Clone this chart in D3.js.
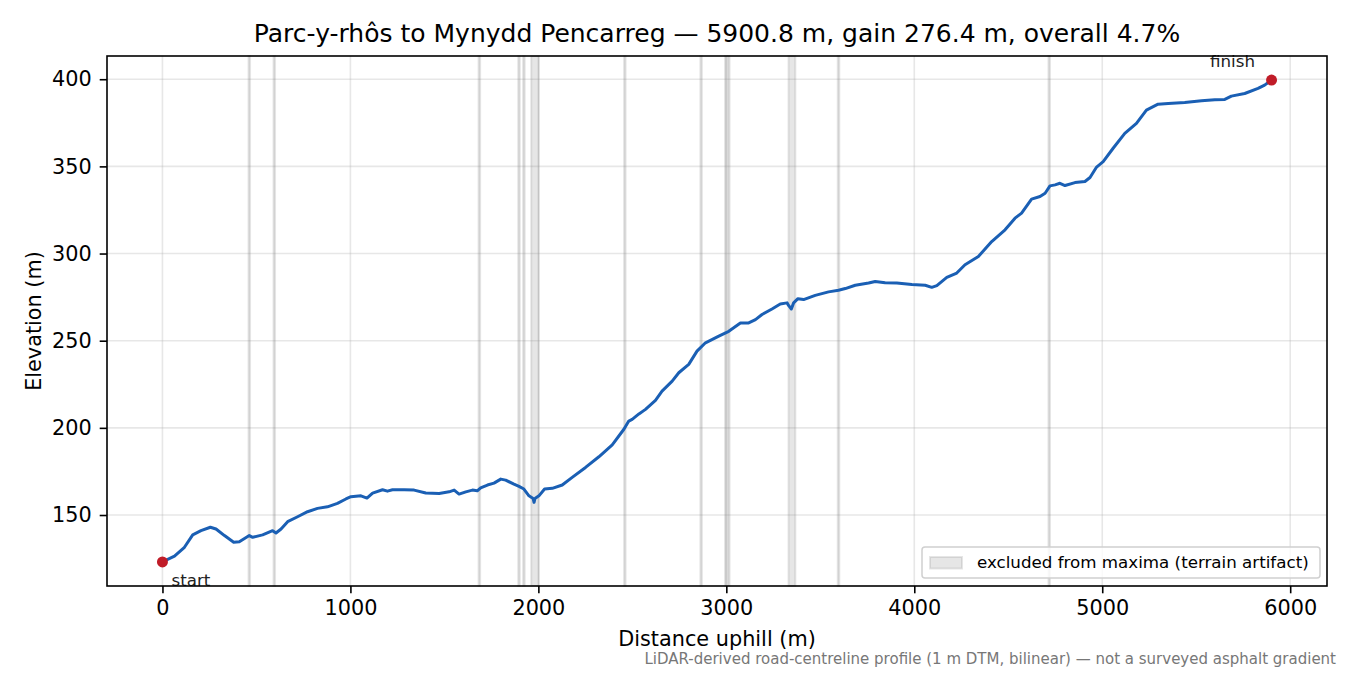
<!DOCTYPE html>
<html>
<head>
<meta charset="utf-8">
<script src="https://cdn.jsdelivr.net/npm/d3@7"></script>
<style>
  body { margin: 0; background: #fff; }
  svg { font-family: "DejaVu Sans", sans-serif; }
</style>
</head>
<body>
<div id="chart"></div>
<script>
// profile: distance (m) and elevation (m)
const dist = [0, 64, 117, 161, 205, 255, 285, 330, 379, 409, 462, 480, 533, 586, 604, 631, 666, 719, 772, 825,
  878, 931, 976, 1003, 1056, 1088, 1118, 1171, 1197, 1224, 1286, 1339, 1401, 1472, 1525, 1552, 1578, 1614, 1649, 1675,
  1693, 1729, 1764, 1800, 1826, 1870, 1897, 1923, 1950, 1972, 1977, 1982, 2003, 2033, 2074, 2127, 2180, 2251, 2322, 2393,
  2455, 2481, 2499, 2535, 2570, 2623, 2658, 2712, 2747, 2800, 2844, 2889, 2960, 3013, 3075, 3119, 3155, 3190, 3243, 3287,
  3323, 3332, 3346, 3358, 3381, 3411, 3473, 3544, 3597, 3633, 3686, 3757, 3792, 3845, 3907, 3987, 4058, 4093, 4120, 4173,
  4226, 4270, 4341, 4412, 4483, 4536, 4571, 4624, 4669, 4696, 4722, 4749, 4775, 4802, 4855, 4908, 4935, 4970, 5005, 5058,
  5120, 5182, 5235, 5297, 5351, 5439, 5528, 5599, 5652, 5687, 5758, 5829, 5864, 5894, 5900.8];
const elev = [123.1, 126.4, 131.5, 138.6, 141.0, 143.0, 142.0, 138.2, 134.4, 134.7, 138.2, 137.2, 138.6, 141.0, 139.7, 142.0, 146.2, 149.0, 151.9, 153.8,
  154.7, 156.7, 159.2, 160.5, 161.0, 159.7, 162.6, 164.5, 163.7, 164.5, 164.5, 164.3, 162.6, 162.4, 163.3, 164.3, 162.0, 163.3, 164.3, 163.9,
  165.6, 167.2, 168.3, 170.6, 170.0, 167.7, 166.4, 164.9, 161.0, 159.5, 157.3, 159.5, 161.0, 164.9, 165.3, 167.2, 171.6, 177.3, 183.4, 190.2,
  199.2, 203.9, 204.9, 208.0, 210.6, 215.8, 221.1, 226.8, 231.6, 236.4, 244.0, 248.8, 252.6, 255.4, 260.2, 260.2, 262.1, 265.0, 268.2, 271.1,
  271.7, 270.1, 268.2, 271.7, 274.1, 273.6, 276.0, 278.0, 278.9, 279.9, 281.8, 283.1, 284.0, 283.3, 283.1, 282.2, 281.8, 280.6, 281.6, 286.3,
  288.8, 293.6, 298.3, 306.9, 313.6, 320.3, 323.2, 331.2, 332.7, 334.6, 338.8, 339.4, 340.3, 339.0, 340.7, 341.3, 343.6, 349.6, 352.7, 360.4,
  368.9, 374.7, 382.3, 385.7, 386.1, 386.7, 387.6, 388.2, 388.4, 390.3, 391.8, 394.7, 396.6, 399.0, 399.5];

// excluded spans (m)
const spanStart = [458, 591, 1682, 1893, 1919, 1962, 2456, 2862, 2993, 3009, 3331, 3593, 4714];
const spanEnd   = [466, 599, 1690, 1901, 1927, 2003, 2464, 2870, 3001, 3017, 3367, 3601, 4722];

const xTicks = [0, 1000, 2000, 3000, 4000, 5000, 6000];
const yTicks = [150, 200, 250, 300, 350, 400];

const titleText = "Parc-y-rhôs to Mynydd Pencarreg — 5900.8 m, gain 276.4 m, overall 4.7%";
const noteText = "LiDAR-derived road-centreline profile (1 m DTM, bilinear) — not a surveyed asphalt gradient";

const W = 1350, H = 675;
const margin = { top: 56, right: 23, bottom: 89, left: 107 };
const width = W - margin.left - margin.right,
    height = H - margin.top - margin.bottom;

const svg = d3.select("#chart").append("svg")
    .attr("width", W)
    .attr("height", H);

const g = svg.append("g")
    .attr("transform", `translate(${margin.left},${margin.top})`);

// matplotlib-style 5% padding
const xPad = 0.05 * (d3.max(dist) - d3.min(dist));
const yPad = 0.05 * (d3.max(elev) - d3.min(elev));

const x = d3.scaleLinear()
    .domain([d3.min(dist) - xPad, d3.max(dist) + xPad])
    .range([0, width]);

const y = d3.scaleLinear()
    .domain([d3.min(elev) - yPad, d3.max(elev) + yPad])
    .range([height, 0]);

// grid
g.append("g").selectAll("line")
    .data(xTicks)
    .enter().append("line")
    .attr("x1", d => x(d)).attr("x2", d => x(d))
    .attr("y1", 0).attr("y2", height)
    .attr("stroke", "#b0b0b0").attr("stroke-opacity", 0.3).attr("stroke-width", 1.6);
g.append("g").selectAll("line")
    .data(yTicks)
    .enter().append("line")
    .attr("y1", d => y(d)).attr("y2", d => y(d))
    .attr("x1", 0).attr("x2", width)
    .attr("stroke", "#b0b0b0").attr("stroke-opacity", 0.3).attr("stroke-width", 1.6);

// excluded spans
g.append("g").selectAll("rect")
    .data(spanStart.map((s, i) => [s, spanEnd[i]]))
    .enter().append("rect")
    .attr("x", d => x(d[0]))
    .attr("width", d => x(d[1]) - x(d[0]))
    .attr("y", 0)
    .attr("height", height)
    .attr("fill", "#808080").attr("fill-opacity", 0.2)
    .attr("stroke", "#808080").attr("stroke-opacity", 0.2).attr("stroke-width", 2);

// profile
const pts = dist.map((d, i) => [d, elev[i]]);
const line = d3.line()
    .x(d => x(d[0]))
    .y(d => y(d[1]));

g.append("path")
    .datum(pts)
    .attr("fill", "none")
    .attr("stroke", "#1a5fb4")
    .attr("stroke-width", 3)
    .attr("stroke-linejoin", "round")
    .attr("d", line);

// start / finish markers
const ends = [pts[0], pts[pts.length - 1]];
g.selectAll(".endpt")
    .data(ends)
    .enter().append("circle")
    .attr("cx", d => x(d[0]))
    .attr("cy", d => y(d[1]))
    .attr("r", 5.5)
    .attr("fill", "#c01c28");

g.append("text")
    .attr("x", x(ends[0][0]) + 9)
    .attr("y", y(ends[0][1]) + 24)
    .attr("font-size", 16.7)
    .attr("fill", "#222")
    .text("start");
g.append("text")
    .attr("x", x(ends[1][0]) - 39)
    .attr("y", y(ends[1][1]) - 13)
    .attr("font-size", 16.7)
    .attr("text-anchor", "middle")
    .attr("fill", "#222")
    .text("finish");

// axes
const xAxis = g.append("g")
    .attr("transform", `translate(0,${height})`)
    .call(d3.axisBottom(x).tickValues(xTicks).tickFormat(d3.format("d")).tickSize(7.3).tickPadding(7.3));
const yAxis = g.append("g")
    .call(d3.axisLeft(y).tickValues(yTicks).tickFormat(d3.format("d")).tickSize(7.3).tickPadding(8));

[xAxis, yAxis].forEach(a => {
  a.select(".domain").remove();
  a.selectAll("text").attr("font-size", 20.8).attr("fill", "#000").attr("font-family", "DejaVu Sans");
  a.selectAll("line").attr("stroke", "#000").attr("stroke-width", 1.6);
});

// frame
g.append("rect")
    .attr("x", 0).attr("y", 0)
    .attr("width", width).attr("height", height)
    .attr("fill", "none")
    .attr("stroke", "#000")
    .attr("stroke-width", 1.6);

// legend
const lg = g.append("g")
    .attr("transform", `translate(${width - 405},${height - 39})`);
lg.append("rect")
    .attr("width", 398).attr("height", 31)
    .attr("rx", 3)
    .attr("fill", "#fff").attr("fill-opacity", 0.8)
    .attr("stroke", "#d0d0d0").attr("stroke-width", 1.5);
lg.append("rect")
    .attr("x", 8).attr("y", 10)
    .attr("width", 32).attr("height", 11.5)
    .attr("fill", "#808080").attr("fill-opacity", 0.2)
    .attr("stroke", "#808080").attr("stroke-opacity", 0.2).attr("stroke-width", 2);
lg.append("text")
    .attr("x", 55).attr("y", 21)
    .attr("font-size", 16.7)
    .attr("fill", "#000")
    .text("excluded from maxima (terrain artifact)");

// titles
svg.append("text")
    .attr("x", margin.left + width / 2)
    .attr("y", 42)
    .attr("text-anchor", "middle")
    .attr("font-size", 25)
    .text(titleText);

svg.append("text")
    .attr("x", margin.left + width / 2)
    .attr("y", 646)
    .attr("text-anchor", "middle")
    .attr("font-size", 20.8)
    .text("Distance uphill (m)");

svg.append("text")
    .attr("transform", `translate(41,${margin.top + height / 2}) rotate(-90)`)
    .attr("text-anchor", "middle")
    .attr("font-size", 20.8)
    .text("Elevation (m)");

svg.append("text")
    .attr("x", 1336)
    .attr("y", 664)
    .attr("text-anchor", "end")
    .attr("font-size", 15)
    .attr("fill", "#777")
    .text(noteText);
</script>
</body>
</html>
